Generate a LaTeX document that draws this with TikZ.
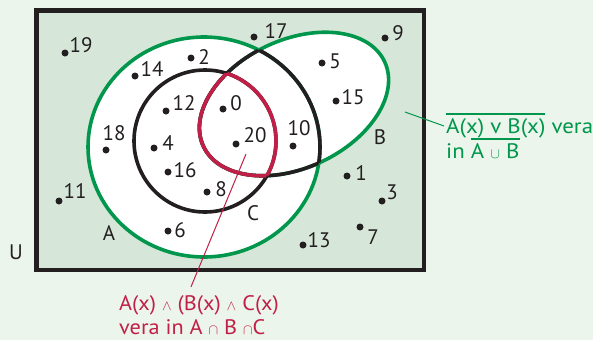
\documentclass[tikz,border=0pt]{standalone}
\usepackage{fontspec}
\setmainfont{PT Sans}
\newfontfamily\greenfont{PT Sans}[FakeStretch=1.09]
\newfontfamily\redfont{PT Sans}[FakeStretch=1.06]
\usetikzlibrary{positioning}

\definecolor{pagebg}{HTML}{ECF5EB}
\definecolor{ufill}{HTML}{D6E7D9}
\definecolor{setgreen}{HTML}{00964B}
\definecolor{setred}{HTML}{C11F47}
\definecolor{ink}{HTML}{231F20}

% the three sets
\newcommand\ellA{(204,147) ellipse [x radius=116, y radius=110]}
\newcommand\ellB{(0,0) ellipse [x radius=100, y radius=64]}
\newcommand\ellC{(205,141) circle [radius=71]}
\newcommand\ovl[1]{\vbox{\hrule height 1.4pt\kern 3.5pt\hbox{#1}}}

\begin{document}
\begin{tikzpicture}[
        x=1pt, y=-1pt,
        every node/.style={font=\fontsize{21}{24}\selectfont, text=ink},
        dot/.style={circle, fill=ink, inner sep=0pt, minimum size=7pt},
        num/.style={inner sep=0pt},
        setline/.style={line width=3.6pt},
        bshape/.style={shift={(294,104)}, rotate=25},
        gtext/.style={anchor=base west, inner sep=0pt, text=setgreen, font=\greenfont\fontsize{21}{24}\selectfont},
        rtext/.style={anchor=base west, inner sep=0pt, text=setred, font=\redfont\fontsize{21}{24}\selectfont},
        callout/.style={line width=1pt}
    ]
        \useasboundingbox (0,0) rectangle (593,340);
        \fill[pagebg] (0,0) rectangle (593,340);
        \fill[ufill] (36.5,10.5) rectangle (423.7,270);
        \fill[white] \ellA;
        \fill[white, bshape] \ellB;
        \draw[setline, setgreen] \ellA;
        \draw[setline, setgreen, bshape] \ellB;
        % inner borders
        \begin{scope}
            \clip[bshape] \ellB;
            \draw[setline, ink] \ellA;
        \end{scope}
        \begin{scope}
            \clip \ellA;
            \draw[setline, ink, bshape] \ellB;
        \end{scope}
        \draw[setline, ink] \ellC;
        \begin{scope}
            \clip \ellC;
            \draw[setline, setred, bshape] \ellB;
        \end{scope}
        \begin{scope}
            \clip[bshape] \ellB;
            \draw[setline, setred] \ellC;
        \end{scope}
        \draw[line width=4.4pt, ink] (36.5,10.5) rectangle (423.7,270);

        % elements
        \node[dot] (d19) at (65,53) {};   \node[num] (l19) at (81,45) {19};
        \node[dot] (d17) at (254,37) {};  \node[num] (l17) at (276,31) {17};
        \node[dot] (d14) at (135,76) {};  \node[num] (l14) at (152,69) {14};
        \node[dot] (d2) at (191,58) {};   \node[num] (l2) at (204,57) {2};
        \node[dot] (d12) at (166,111) {}; \node[num] (l12) at (184,103) {12};
        \node[dot] (d0) at (223,109) {};  \node[num] (l0) at (236,103) {0};
        \node[dot] (d18) at (106,150) {}; \node[num] (l18) at (114,133) {18};
        \node[dot] (d4) at (154,148) {};  \node[num] (l4) at (168,143) {4};
        \node[dot] (d20) at (236,144) {}; \node[num] (l20) at (255,135) {20};
        \node[dot] (d16) at (168,172) {}; \node[num] (l16) at (185,170) {16};
        \node[dot] (d8) at (207,192) {};  \node[num] (l8) at (221,189) {8};
        \node[dot] (d11) at (59,201) {};  \node[num] (l11) at (75,191) {11};
        \node[dot] (d6) at (168,231) {};  \node[num] (l6) at (180,230) {6};
        \node[dot] (d10) at (293,146) {}; \node[num] (l10) at (299,128) {10};
        \node[dot] (d5) at (322,63) {};   \node[num] (l5) at (335,61) {5};
        \node[dot] (d15) at (336,101) {}; \node[num] (l15) at (353,97) {15};
        \node[dot] (d9) at (385,38) {};   \node[num] (l9) at (398,33) {9};
        \node[dot] (d1) at (347,176) {};  \node[num] (l1) at (361,173) {1};
        \node[dot] (d3) at (382,201) {};  \node[num] (l3) at (392,192) {3};
        \node[dot] (d7) at (360,227) {};  \node[num] (l7) at (373,237) {7};
        \node[dot] (d13) at (303,245) {}; \node[num] (l13) at (319,240) {13};

        % set names
        \node[num] (setA) at (109,233) {A};
        \node[num] (setB) at (380,137) {B};
        \node[num] (setC) at (253,213) {C};
        \node[num] (setU) at (16,252) {U};

        % callouts
        \node[gtext] (gline1) at (446,133) {\ovl{A(x) v B(x)} vera};
        \node[gtext] (gline2) at (446,158) {in \ovl{A $\scriptstyle\cup$ B}};
        \node[rtext] (rline1) at (119,310) {A(x) $\scriptstyle\wedge$ (B(x) $\scriptstyle\wedge$ C(x)};
        \node[rtext] (rline2) at (119,334) {vera in A $\scriptstyle\cap$ B $\scriptstyle\cap$C};
        \coordinate (gfoot) at (405,112);
        \coordinate (rfoot) at (246,154);
        \draw[callout, setgreen] (gfoot) -- ([xshift=-2pt, yshift=7pt]gline1.base west);
        \draw[callout, setred] (rfoot) -- ([xshift=72pt, yshift=8pt]rline1.north west);
\end{tikzpicture}
\end{document}
